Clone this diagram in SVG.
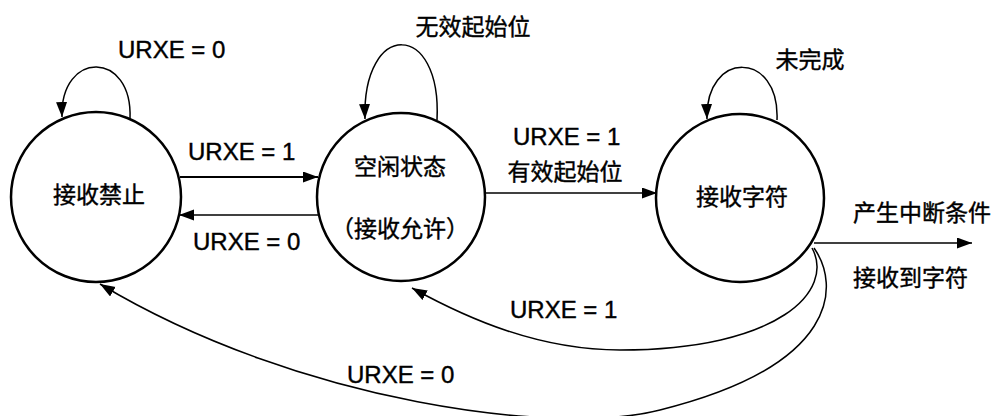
<svg xmlns="http://www.w3.org/2000/svg" width="1002" height="416" viewBox="0 0 1002 416">
<style>
.st{fill:#fff;stroke:#000;stroke-width:2.5}
.c{fill:none;stroke:#000;stroke-width:1.5}
.lat{font-family:"Liberation Sans",Arial,sans-serif;font-size:24px;fill:#000;stroke:#000;stroke-width:0.4}
.cjk{font-family:"Noto Sans CJK SC","Liberation Sans",sans-serif;font-size:23px;fill:#000;stroke:#000;stroke-width:0.4}
</style>
<defs>
<marker id="ah" markerUnits="userSpaceOnUse" markerWidth="16" markerHeight="12" refX="15" refY="5.5" orient="auto">
<path d="M0,0 L15,5.5 L0,11 z" fill="#000"/>
</marker>
</defs>
<rect width="1002" height="416" fill="#fff"/>
<g id="node-disabled">
<circle class="st" cx="96" cy="197" r="85"/>
<text class="cjk" x="99" y="203" text-anchor="middle">接收禁止</text>
</g>
<g id="node-idle">
<circle class="st" cx="401" cy="197" r="84"/>
<text class="cjk" x="400" y="175" text-anchor="middle">空闲状态</text>
<text class="cjk" x="400" y="237" text-anchor="middle">（接收允许）</text>
</g>
<g id="node-receive">
<circle class="st" cx="740" cy="198" r="84"/>
<text class="cjk" x="742" y="205" text-anchor="middle">接收字符</text>
</g>
<g id="connectors">
<path class="c" d="M130,119 C133,50 60,50 62,117" marker-end="url(#ah)"/>
<path class="c" d="M437,120 C442,20 362,20 365,119" marker-end="url(#ah)"/>
<path class="c" d="M777,120 C780,50 705,50 707,119" marker-end="url(#ah)"/>
<path class="c" d="M180,177 L318,177" style="stroke-width:2.2" marker-end="url(#ah)"/>
<path class="c" d="M318,215 L179,215" marker-end="url(#ah)"/>
<path class="c" d="M486,193 L657,193" marker-end="url(#ah)"/>
<path class="c" d="M814,243 L972,243" marker-end="url(#ah)"/>
<path class="c" d="M812,248 C835,290 780,350 620,350 C540,350 470,320 412,288" marker-end="url(#ah)"/>
<path class="c" d="M814,248 C840,285 840,365 660,410 C560,436 300,404 100,284" marker-end="url(#ah)"/>
</g>
<g id="labels">
<text class="lat" x="118" y="58">URXE = 0</text>
<text class="lat" x="188" y="160">URXE = 1</text>
<text class="lat" x="193" y="250">URXE = 0</text>
<text class="lat" x="513" y="145">URXE = 1</text>
<text class="cjk" x="565" y="180" text-anchor="middle">有效起始位</text>
<text class="cjk" x="473" y="35" text-anchor="middle">无效起始位</text>
<text class="cjk" x="810" y="68" text-anchor="middle">未完成</text>
<text class="cjk" x="853" y="221">产生中断条件</text>
<text class="cjk" x="853" y="286">接收到字符</text>
<text class="lat" x="510" y="318">URXE = 1</text>
<text class="lat" x="347" y="383">URXE = 0</text>
</g>
</svg>
